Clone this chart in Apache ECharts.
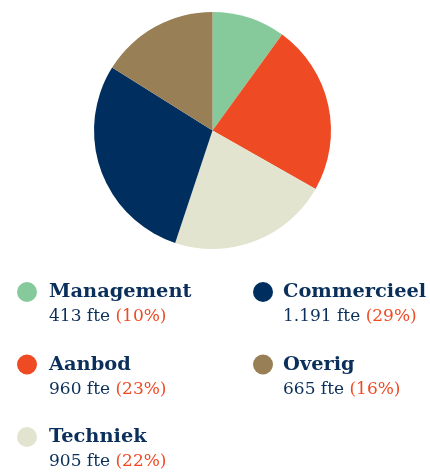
<!DOCTYPE html>
<html>
<head>
<meta charset="utf-8">
<script src="https://cdn.jsdelivr.net/npm/echarts@6/dist/echarts.min.js"></script>
<style>
  html, body { margin: 0; padding: 0; background: #fff; }
  #chart { width: 430px; height: 472px; }
</style>
</head>
<body>
<div id="chart"></div>
<script>
// fte per afdeling
const names = ['Management', 'Aanbod', 'Techniek', 'Commercieel', 'Overig'];
const fte = [413, 960, 905, 1191, 665];
const pct = [10, 23, 22, 29, 16];
const colors = ['#86CA9C', '#EE4A24', '#E2E4D0', '#002F5F', '#987F55'];

// volgorde in de taart (met de klok mee vanaf boven)
const pieOrder = ['Management', 'Aanbod', 'Techniek', 'Commercieel', 'Overig'];

const navy = '#0B2F5B';
const orange = '#EE4A24';

function fmt(n) {
  // 1191 -> 1.191
  return String(n).replace(/\B(?=(\d{3})+(?!\d))/g, '.');
}

const legendStyle = {
  padding: [27, 0, 0, 7],
  rich: {
    name: { fontFamily: 'DejaVu Serif', fontWeight: 'bold', fontSize: 19.4, color: navy, lineHeight: 23 },
    val: { fontFamily: 'DejaVu Serif', fontSize: 17, color: navy, lineHeight: 27 },
    pct: { fontFamily: 'DejaVu Serif', fontSize: 17, color: orange, lineHeight: 27 },
  },
};

function legendText(name) {
  const i = names.indexOf(name);
  return '{name|' + name + '}\n{val|' + fmt(fte[i]) + ' fte }{pct|(' + pct[i] + '%)}';
}

const myChart = echarts.init(document.getElementById('chart'));
const option = {
  animation: false,
  legend: [
    {
      orient: 'vertical',
      left: 17,
      top: 282,
      height: 190,
      padding: 0,
      icon: 'circle',
      itemWidth: 20,
      itemHeight: 20,
      itemGap: 29,
      selectedMode: false,
      formatter: legendText,
      textStyle: legendStyle,
      data: ['Management', 'Aanbod', 'Techniek'],
    },
    {
      orient: 'vertical',
      left: 253,
      top: 282,
      height: 190,
      padding: 0,
      icon: 'circle',
      itemWidth: 20,
      itemHeight: 20,
      itemGap: 29,
      selectedMode: false,
      formatter: legendText,
      textStyle: Object.assign({}, legendStyle, { padding: [27, 0, 0, 5] }),
      data: ['Commercieel', 'Overig'],
    },
  ],
  series: [
    {
      type: 'pie',
      center: [212.5, 130.5],
      radius: 118.5,
      startAngle: 90,
      clockwise: true,
      label: { show: false },
      labelLine: { show: false },
      emphasis: { disabled: true },
      itemStyle: { borderWidth: 0 },
      data: pieOrder.map(function (n) {
        const i = names.indexOf(n);
        return { name: n, value: fte[i], itemStyle: { color: colors[i] } };
      }),
    },
  ],
};
myChart.setOption(option);
</script>
</body>
</html>
